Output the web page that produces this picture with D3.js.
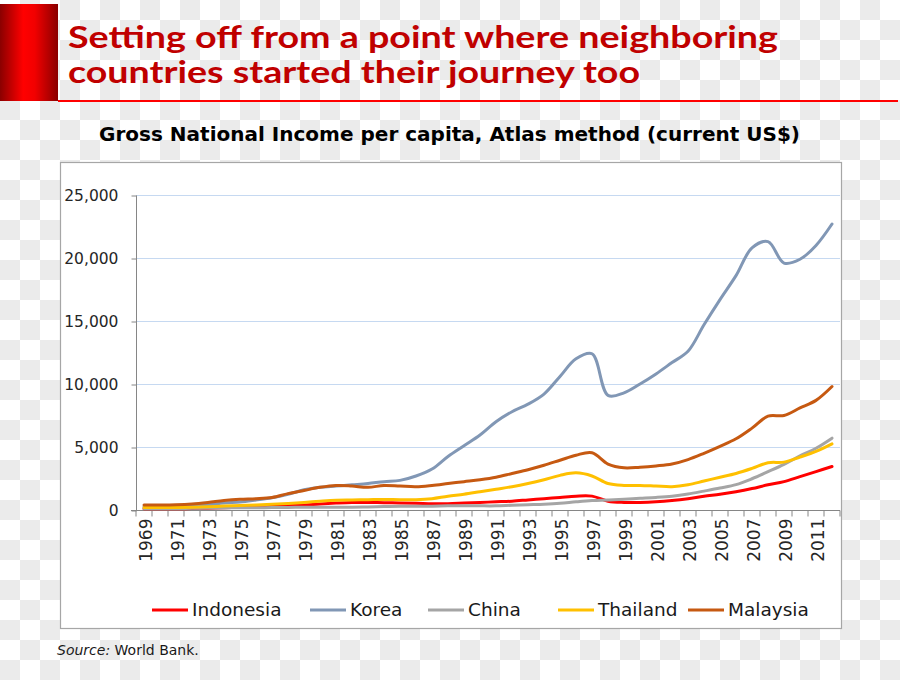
<!DOCTYPE html>
<html><head><meta charset="utf-8">
<script src="https://cdn.jsdelivr.net/npm/d3@7"></script>
<style>html,body{margin:0;padding:0;background:#fff;}svg{display:block;}</style>
</head><body>
<svg id="chart" width="900" height="680"></svg>
<script>
const years = d3.range(1969, 2013);
const tickYears = d3.range(1969, 2013, 2);
const yTicks = [0, 5000, 10000, 15000, 20000, 25000];
const seriesNames = ["Indonesia", "Korea", "China", "Thailand", "Malaysia"];
const seriesColors = ["#ff0000", "#8197b5", "#a5a5a5", "#ffc000", "#c65911"];

const indonesia = [100,100,100,110,130,170,220,260,300,350,400,480,550,600,600,580,560,540,500,500,550,600,650,700,800,900,1000,1100,1100,700,600,600,650,750,900,1100,1250,1450,1700,2000,2250,2650,3050,3450];
const korea = [250,280,310,330,410,560,640,800,980,1250,1600,1800,1900,2000,2100,2250,2350,2700,3250,4250,5100,5950,7000,7800,8400,9200,10600,12000,12400,9100,9300,10000,10800,11700,12600,14700,16700,18600,20800,21300,19600,19900,21000,22700];
const china = [110,120,120,130,150,160,180,180,190,200,220,220,220,220,240,270,290,290,300,330,340,330,330,380,420,460,530,650,750,800,860,930,1000,1100,1270,1500,1740,2010,2480,3040,3620,4300,4900,5700];
const thailand = [200,200,200,220,260,310,350,400,450,520,600,700,780,800,820,840,820,820,900,1100,1250,1450,1650,1850,2100,2400,2750,2950,2700,2100,1950,1950,1900,1850,2000,2300,2600,2900,3300,3750,3800,4200,4650,5250];
const malaysia = [400,400,420,480,600,750,850,900,1000,1300,1550,1800,1950,1900,1800,1950,1900,1850,1950,2100,2250,2400,2600,2900,3200,3550,3950,4350,4550,3650,3350,3400,3500,3650,4000,4500,5050,5650,6500,7450,7500,8100,8700,9800];
const seriesValues = [indonesia, korea, china, thailand, malaysia];

const svg = d3.select("#chart");
const defs = svg.append("defs");

// checkerboard background
const pat = defs.append("pattern").attr("id","checker").attr("width",40).attr("height",40).attr("patternUnits","userSpaceOnUse");
pat.append("rect").attr("width",40).attr("height",40).attr("fill","#ffffff");
pat.append("rect").attr("x",20).attr("y",0).attr("width",20).attr("height",20).attr("fill","#ebebeb");
pat.append("rect").attr("x",0).attr("y",20).attr("width",20).attr("height",20).attr("fill","#ebebeb");
svg.append("rect").attr("width",900).attr("height",680).attr("fill","url(#checker)");

// red block gradient
const grad = defs.append("linearGradient").attr("id","redgrad").attr("x1","0").attr("x2","1").attr("y1","0").attr("y2","0");
grad.append("stop").attr("offset","0%").attr("stop-color","#8a0000");
grad.append("stop").attr("offset","40%").attr("stop-color","#ff0000");
grad.append("stop").attr("offset","60%").attr("stop-color","#f20000");
grad.append("stop").attr("offset","100%").attr("stop-color","#8a0000");
svg.append("rect").attr("x",0).attr("y",4).attr("width",58).attr("height",97).attr("fill","url(#redgrad)");
svg.append("rect").attr("x",58).attr("y",100).attr("width",840).attr("height",2).attr("fill","#ff0000");

// headline
const titleLines = ["Setting off from a point where neighboring", "countries started their journey too"];
const titleLens = [710, 572];
const titleY = [48, 83];
titleLines.forEach((t,i)=>{
  svg.append("text").attr("x",68).attr("y",titleY[i]).text(t)
    .attr("font-family","Lato, 'Open Sans', sans-serif").attr("font-weight","bold")
    .attr("font-size",29.5).attr("fill","#c00000")
    .attr("textLength",titleLens[i]).attr("lengthAdjust","spacingAndGlyphs");
});

// chart box
svg.append("rect").attr("x",60.5).attr("y",162.5).attr("width",781).attr("height",466)
  .attr("fill","#ffffff").attr("stroke","#a6a6a6").attr("stroke-width",1.2);

svg.append("text").attr("x",99).attr("y",141).text("Gross National Income per capita, Atlas method (current US$)")
  .attr("font-family","'DejaVu Sans', Verdana, sans-serif").attr("font-weight","bold").attr("font-size",19)
  .attr("fill","#000").attr("textLength",701).attr("lengthAdjust","spacingAndGlyphs");

const x = d3.scaleBand().domain(years).range([136, 840]);
const y = d3.scaleLinear().domain([0, 25000]).range([510, 195]);

// gridlines
svg.append("g").selectAll("line").data(yTicks.filter(d=>d>0)).join("line")
  .attr("x1",136).attr("x2",840).attr("y1",d=>y(d)+0.5).attr("y2",d=>y(d)+0.5)
  .attr("stroke","#c6d9f1").attr("stroke-width",1.2);

// y axis
const yAxis = svg.append("g").attr("transform","translate(136.5,0.5)")
  .call(d3.axisLeft(y).tickValues(yTicks).tickSize(5).tickPadding(13).tickFormat(d3.format(",")));
yAxis.select(".domain").attr("stroke","#868686").attr("d","M0,"+(y(25000))+"V"+y(0));
yAxis.selectAll(".tick line").attr("stroke","#868686");
yAxis.selectAll("text").attr("font-family","'DejaVu Sans', Verdana, sans-serif").attr("font-size",15.5).attr("fill","#262626");

// x axis
const xAxisG = svg.append("g").attr("transform","translate(0,510.5)");
xAxisG.append("line").attr("x1",131).attr("x2",840).attr("y1",0).attr("y2",0).attr("stroke","#868686");
xAxisG.selectAll("line.tk").data(years.concat([2013])).join("line").attr("class","tk")
  .attr("x1",d=>d===2013? 840 : x(d)).attr("x2",d=>d===2013? 840 : x(d))
  .attr("y1",0).attr("y2",6).attr("stroke","#868686");
xAxisG.selectAll("text").data(tickYears).join("text")
  .attr("transform",d=>`translate(${x(d)+x.bandwidth()/2+2},8) rotate(-90)`)
  .attr("text-anchor","end").attr("dy","0.35em").text(d=>d)
  .attr("font-family","'DejaVu Sans', Verdana, sans-serif").attr("font-size",17).attr("fill","#262626");

// lines
const line = d3.line().x((d,i)=>x(years[i])+x.bandwidth()/2).y(d=>y(d)).curve(d3.curveCatmullRom.alpha(0.5));
seriesValues.forEach((vals,i)=>{
  svg.append("path").datum(vals).attr("d",line).attr("fill","none")
    .attr("stroke",seriesColors[i]).attr("stroke-width",3).attr("stroke-linejoin","round").attr("stroke-linecap","round");
});

// legend
const legendX = [152, 310, 428, 558, 688];
seriesNames.forEach((n,i)=>{
  svg.append("line").attr("x1",legendX[i]).attr("x2",legendX[i]+36).attr("y1",610).attr("y2",610)
    .attr("stroke",seriesColors[i]).attr("stroke-width",3);
  svg.append("text").attr("x",legendX[i]+40).attr("y",610).attr("dy","0.35em").text(n)
    .attr("font-family","'DejaVu Sans', Verdana, sans-serif").attr("font-size",18.5).attr("fill","#1a1a1a");
});

// source
const src = svg.append("text").attr("x",57).attr("y",655)
  .attr("font-family","'DejaVu Sans', Verdana, sans-serif").attr("font-size",14).attr("fill","#1a1a1a");
src.append("tspan").attr("font-style","italic").text("Source:");
src.append("tspan").text(" World Bank.");
</script>
</body></html>
